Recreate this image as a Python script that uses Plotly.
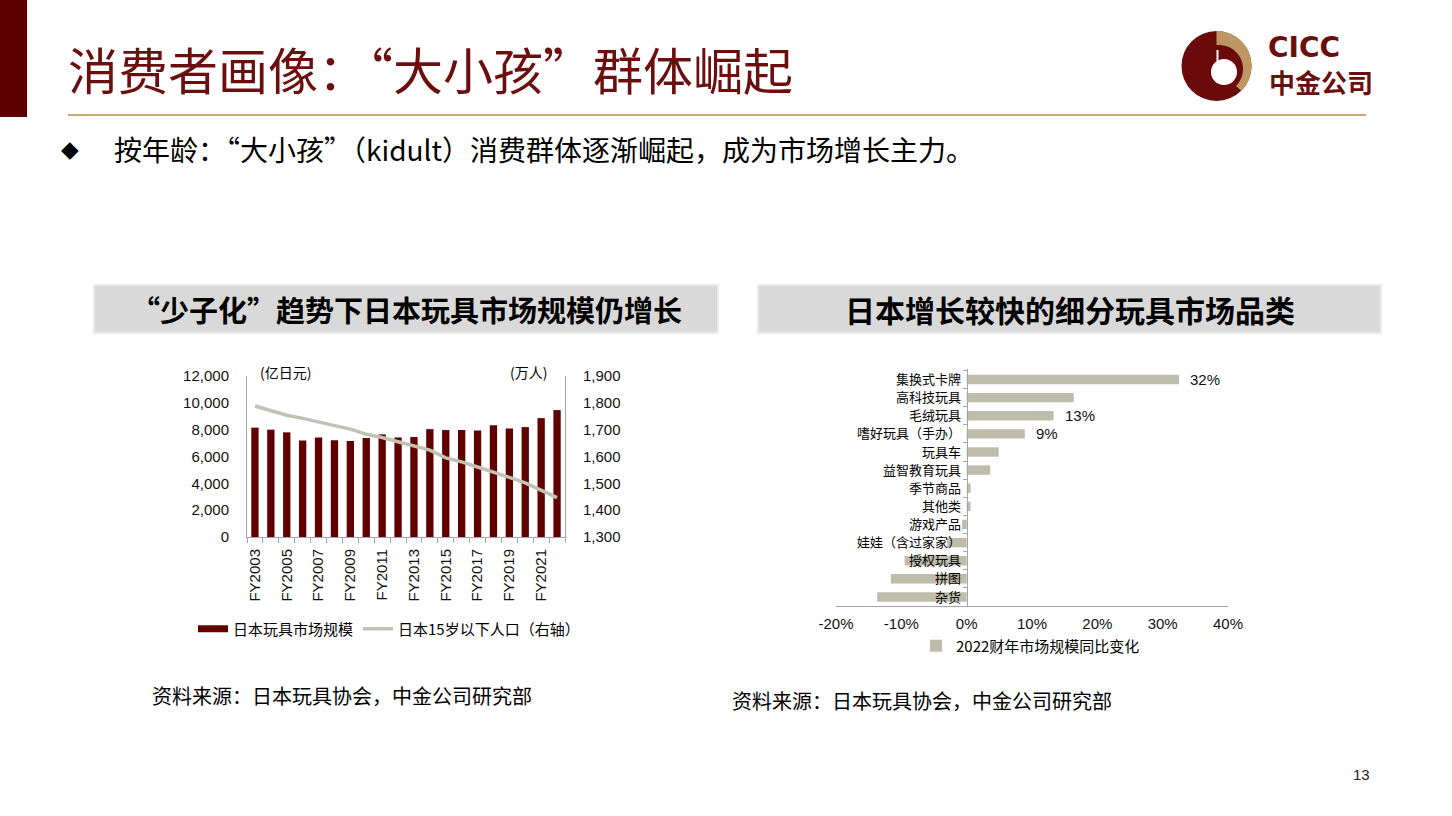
import math
import plotly.graph_objects as go

W, H = 1452, 816


def X(px):
    return px / W


def Y(py):
    return 1 - py / H


# ---------------- data ----------------
fiscal_years = ['FY2003', 'FY2004', 'FY2005', 'FY2006', 'FY2007', 'FY2008', 'FY2009',
                'FY2010', 'FY2011', 'FY2012', 'FY2013', 'FY2014', 'FY2015', 'FY2016',
                'FY2017', 'FY2018', 'FY2019', 'FY2020', 'FY2021', 'FY2022']
market_size = [8150, 8000, 7800, 7200, 7420, 7220, 7150, 7380, 7650, 7420,
               7450, 8040, 7970, 7970, 7940, 8320, 8090, 8190, 8860, 9460]
pop_under15 = [1788, 1772, 1754, 1742, 1729, 1716, 1702, 1683, 1671, 1655,
               1639, 1624, 1595, 1580, 1561, 1543, 1522, 1502, 1474, 1447]
left_yticks = [0, 2000, 4000, 6000, 8000, 10000, 12000]
right_yticks = [1300, 1400, 1500, 1600, 1700, 1800, 1900]

categories = ['集换式卡牌', '高科技玩具', '毛绒玩具', '嗜好玩具（手办）', '玩具车', '益智教育玩具',
              '季节商品', '其他类', '游戏产品', '娃娃（含过家家）', '授权玩具', '拼图', '杂货']
yoy_change = [0.325, 0.164, 0.133, 0.089, 0.049, 0.036, 0.006, 0.006,
              -0.007, -0.03, -0.095, -0.116, -0.137]
value_labels = ['32%', '', '13%', '9%', '', '', '', '', '', '', '', '', '']
pct_ticks = [-0.2, -0.1, 0.0, 0.1, 0.2, 0.3, 0.4]
pct_tick_labels = ['-20%', '-10%', '0%', '10%', '20%', '30%', '40%']

# ---------------- styles ----------------
MAROON = '#600000'
TITLE_RED = '#6B0E0E'
LINE_GRAY = '#C3C1B3'
BAR_GRAY = '#BEBCAB'
AXIS_GRAY = '#A6A6A6'
GOLD = '#C9A97A'
CJK = 'Noto Sans CJK SC'
LAT = 'Liberation Sans, Arial'

idx = list(range(len(fiscal_years)))

fig = go.Figure()

# left chart
fig.add_trace(go.Bar(x=idx, y=market_size, marker=dict(color=MAROON, line=dict(width=0)),
                     width=0.46, xaxis='x', yaxis='y', showlegend=False,
                     name='日本玩具市场规模'))
fig.add_trace(go.Scatter(x=[None], y=[None], mode='lines', line=dict(color=MAROON, width=7),
                         name='日本玩具市场规模', xaxis='x', yaxis='y', legend='legend'))
fig.add_trace(go.Scatter(x=idx, y=pop_under15, mode='lines', line=dict(color=LINE_GRAY, width=3.5),
                         name='日本15岁以下人口（右轴）', xaxis='x', yaxis='y2', legend='legend'))

# right chart
fig.add_trace(go.Bar(x=yoy_change, y=categories, orientation='h', width=0.52,
                     marker=dict(color=BAR_GRAY, line=dict(width=0)),
                     name='2022财年市场规模同比变化', xaxis='x2', yaxis='y3', legend='legend2'))

# domains
lx0, lx1 = X(247), X(565)
ly0, ly1 = Y(537), Y(376)
rx0, rx1 = X(836), X(1228)
ry0, ry1 = Y(606), Y(369)
r_range = [-0.2, 0.4]
zero_pos = rx0 + (0 - r_range[0]) / (r_range[1] - r_range[0]) * (rx1 - rx0)

tickfont = dict(family=LAT, size=15, color='#111')

fig.update_layout(
    template='none',
    width=W, height=H,
    margin=dict(l=0, r=0, t=0, b=0, pad=0, autoexpand=False),
    paper_bgcolor='white', plot_bgcolor='rgba(0,0,0,0)',
    bargap=0.5,
    hovermode=False,
    xaxis=dict(domain=[lx0, lx1], range=[-0.5, len(idx) - 0.5], anchor='y', automargin=False,
               tickmode='array', tickvals=idx[::2], ticktext=fiscal_years[::2],
               tickangle=-90, ticks='', showline=True, linecolor=AXIS_GRAY, linewidth=1,
               showgrid=False, zeroline=False, tickfont=tickfont, ticklabelstandoff=5,
               minor=dict(tickmode='array', tickvals=[i - 0.5 for i in range(len(idx) + 1)],
                          ticks='outside', ticklen=5, tickcolor=AXIS_GRAY, showgrid=False)),
    yaxis=dict(domain=[ly0, ly1], range=[0, 12000], tickmode='array', tickvals=left_yticks,
               tickformat=',', showline=True, linecolor=AXIS_GRAY, showgrid=False,
               zeroline=False, ticks='', tickfont=tickfont, ticklabelstandoff=14, anchor='x',
               automargin=False),
    yaxis2=dict(range=[1300, 1900], overlaying='y', side='right', anchor='x',
                tickmode='array', tickvals=right_yticks, tickformat=',',
                showline=True, linecolor=AXIS_GRAY, showgrid=False, zeroline=False,
                ticks='', tickfont=tickfont, ticklabelstandoff=14, automargin=False),
    xaxis2=dict(domain=[rx0, rx1], range=r_range, anchor='y3', tickmode='array',
                tickvals=pct_ticks, ticktext=pct_tick_labels, showline=True,
                linecolor=AXIS_GRAY, showgrid=False, zeroline=False, ticks='',
                tickfont=tickfont, ticklabelstandoff=4, automargin=False),
    yaxis3=dict(domain=[ry0, ry1], type='category', autorange='reversed', anchor='free',
                position=zero_pos, showline=True, linecolor=AXIS_GRAY, showgrid=False,
                zeroline=False, ticks='outside', tickson='boundaries', ticklen=4,
                tickcolor=AXIS_GRAY, tickfont=dict(family=CJK, size=13, color='#000'),
                ticklabelstandoff=3, automargin=False),
    legend=dict(orientation='h', x=X(193), y=Y(629), xanchor='left', yanchor='middle',
                font=dict(family=CJK, size=15, color='#000'), bgcolor='rgba(0,0,0,0)',
                traceorder='normal', itemwidth=30),
    legend2=dict(orientation='h', x=X(916), y=Y(646), xanchor='left', yanchor='middle',
                 font=dict(family=CJK, size=15, color='#000'), bgcolor='rgba(0,0,0,0)'),
)

annotations = []
# value labels on right chart
for v, c, lab in zip(yoy_change, categories, value_labels):
    if lab:
        annotations.append(dict(x=v, y=c, xref='x2', yref='y3', text=lab, showarrow=False,
                                xanchor='left', xshift=9, font=dict(family=LAT, size=15, color='#111')))

# unit labels
annotations.append(dict(x=X(258), y=Y(372), xref='paper', yref='paper', text='(亿日元)',
                        showarrow=False, xanchor='left', yanchor='middle',
                        font=dict(family=CJK, size=14, color='#000')))
annotations.append(dict(x=X(549), y=Y(372), xref='paper', yref='paper', text='(万人)',
                        showarrow=False, xanchor='right', yanchor='middle',
                        font=dict(family=CJK, size=14, color='#000')))

# page title, subtitle
annotations.append(dict(x=X(66), y=Y(68), xref='paper', yref='paper',
                        text='消费者画像：“大小孩”群体崛起', showarrow=False,
                        xanchor='left', yanchor='middle',
                        font=dict(family=CJK, size=50, color=TITLE_RED)))
annotations.append(dict(x=X(59), y=Y(149), xref='paper', yref='paper', text='◆',
                        showarrow=False, xanchor='left', yanchor='middle',
                        font=dict(family='DejaVu Sans', size=23, color='#000')))
annotations.append(dict(x=X(112), y=Y(149), xref='paper', yref='paper',
                        text='按年龄：“大小孩”（kidult）消费群体逐渐崛起，成为市场增长主力。',
                        showarrow=False, xanchor='left', yanchor='middle',
                        font=dict(family=CJK, size=28, color='#000')))

# chart titles
annotations.append(dict(x=X(406), y=Y(309), xref='paper', yref='paper',
                        text='“少子化”趋势下日本玩具市场规模仍增长', showarrow=False,
                        xanchor='center', yanchor='middle',
                        font=dict(family=CJK, size=29, color='#000', weight='bold')))
annotations.append(dict(x=X(1070), y=Y(309), xref='paper', yref='paper',
                        text='日本增长较快的细分玩具市场品类', showarrow=False,
                        xanchor='center', yanchor='middle',
                        font=dict(family=CJK, size=30, color='#000', weight='bold')))

# sources
annotations.append(dict(x=X(150), y=Y(695), xref='paper', yref='paper',
                        text='资料来源：日本玩具协会，中金公司研究部', showarrow=False,
                        xanchor='left', yanchor='middle',
                        font=dict(family=CJK, size=20, color='#000')))
annotations.append(dict(x=X(730), y=Y(700), xref='paper', yref='paper',
                        text='资料来源：日本玩具协会，中金公司研究部', showarrow=False,
                        xanchor='left', yanchor='middle',
                        font=dict(family=CJK, size=20, color='#000')))

# page number
annotations.append(dict(x=X(1361), y=Y(774), xref='paper', yref='paper', text='13',
                        showarrow=False, xanchor='center', yanchor='middle',
                        font=dict(family=LAT, size=15, color='#222')))

# logo text
annotations.append(dict(x=X(1266), y=Y(47), xref='paper', yref='paper', text='CICC',
                        showarrow=False, xanchor='left', yanchor='middle',
                        font=dict(family='DejaVu Sans', size=28, color=TITLE_RED, weight='bold')))
annotations.append(dict(x=X(1267), y=Y(82), xref='paper', yref='paper', text='中金公司',
                        showarrow=False, xanchor='left', yanchor='middle',
                        font=dict(family=CJK, size=26, color=TITLE_RED, weight='bold')))

fig.update_layout(annotations=annotations)

shapes = []
# left maroon block
shapes.append(dict(type='rect', xref='paper', yref='paper', x0=X(0), x1=X(27), y0=Y(117), y1=Y(0),
                   fillcolor='#5E0000', line=dict(width=0), layer='below'))
# gold rule
shapes.append(dict(type='line', xref='paper', yref='paper', x0=X(68), x1=X(1366), y0=Y(115), y1=Y(115),
                   line=dict(color=GOLD, width=2)))
# chart title boxes
for bx0, bx1 in [(94, 718), (758, 1381)]:
    shapes.append(dict(type='rect', xref='paper', yref='paper', x0=X(bx0), x1=X(bx1),
                       y0=Y(333), y1=Y(285), fillcolor='#D9D9D9',
                       line=dict(color='#EBEBEB', width=2), layer='below'))

# logo graphic
cx, cy, R = 1216.5, 66.0, 35.0
shapes.append(dict(type='circle', xref='paper', yref='paper', x0=X(cx - R), x1=X(cx + R),
                   y0=Y(cy + R), y1=Y(cy - R), fillcolor='#6A0A0A', line=dict(width=0)))
pts = []
n = 40
for k in range(n + 1):
    a = math.radians(90 - 135 * k / n)
    pts.append((cx + R * math.cos(a), cy - R * math.sin(a)))
icx, icy, ir = 1219.0, 69.0, 24.0
for k in range(n, -1, -1):
    a = math.radians(90 - 135 * k / n)
    pts.append((icx + ir * math.cos(a), icy - ir * math.sin(a)))
pts.append((cx, icy - ir))
path = 'M ' + ' L '.join(f'{X(px):.5f},{Y(py):.5f}' for px, py in pts) + ' Z'
shapes.append(dict(type='path', xref='paper', yref='paper', path=path,
                   fillcolor='#BE9662', line=dict(width=0)))
wcx, wcy, wr = 1224.0, 72.0, 13.0
shapes.append(dict(type='circle', xref='paper', yref='paper', x0=X(wcx - wr), x1=X(wcx + wr),
                   y0=Y(wcy + wr), y1=Y(wcy - wr), fillcolor='white', line=dict(width=0)))
shapes.append(dict(type='line', xref='paper', yref='paper', x0=X(1217.5), x1=X(1217.5),
                   y0=Y(50), y1=Y(64), line=dict(color='white', width=2)))

fig.update_layout(shapes=shapes)

fig.write_html('out.html', config={'displayModeBar': False},
               post_script="document.body.style.margin='0px';")
